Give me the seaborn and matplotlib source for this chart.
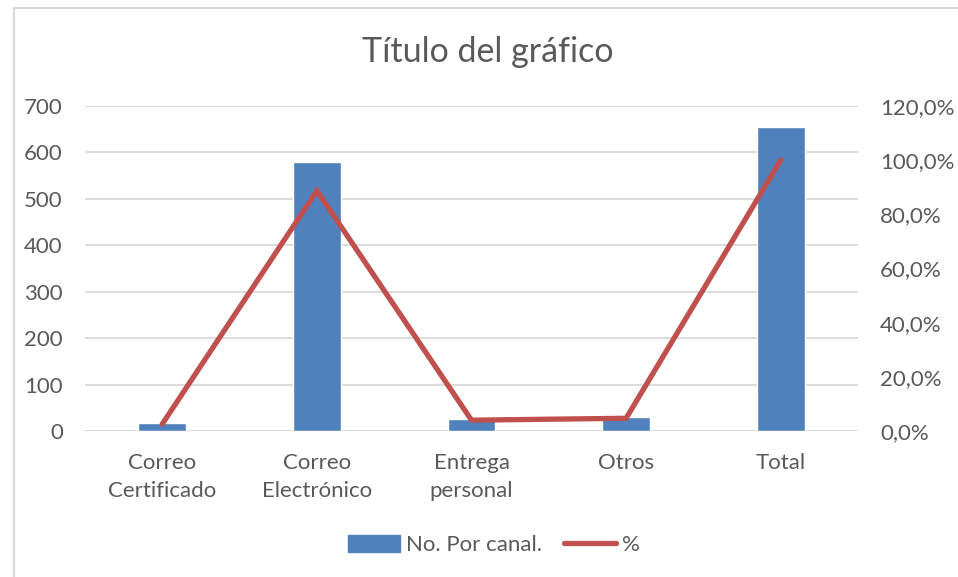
import matplotlib
matplotlib.use("Agg")
import matplotlib.pyplot as plt
import seaborn as sns
import pandas as pd
from matplotlib.patches import Rectangle
from matplotlib.lines import Line2D
from matplotlib.ticker import FuncFormatter, MultipleLocator

categories = ["Correo Certificado", "Correo Electrónico", "Entrega personal", "Otros", "Total"]
tick_labels = ["Correo\nCertificado", "Correo\nElectrónico", "Entrega\npersonal", "Otros", "Total"]
counts = [17, 580, 26, 31, 654]
percent = [2.6, 88.7, 4.0, 4.7, 100.0]
title = "Título del gráfico"
bar_label = "No. Por canal."
line_label = "%"

sns.set_style("white")
plt.rcParams["font.family"] = ["Lato", "DejaVu Sans"]

txt = "#595959"
grid = "#d9d9d9"
bar_c = "#4f81bd"
line_c = "#c0504d"

fig = plt.figure(figsize=(9.58, 5.77), dpi=100)
fig.patches.append(Rectangle((14 / 958, -0.1), 1.2, (1 - 8 / 577) + 0.1,
                             transform=fig.transFigure, fill=False,
                             edgecolor=grid, linewidth=1.5))
ax = fig.add_axes([85 / 958, 1 - 431 / 577, (858 - 85) / 958, (431 - 106) / 577])

df = pd.DataFrame({"cat": categories, "n": counts, "pct": percent})
sns.barplot(data=df, x="cat", y="n", ax=ax, color=bar_c, width=0.31,
            saturation=1, order=categories)
ax.set_xlim(-0.5, 4.5)
ax.set_ylim(0, 700)
ax.yaxis.set_major_locator(MultipleLocator(100))
ax.grid(axis="y", color=grid, linewidth=1.3)
ax.set_axisbelow(True)
for s in ax.spines.values():
    s.set_visible(False)
ax.set_xlabel("")
ax.set_ylabel("")
ax.set_xticks(range(len(categories)))
ax.set_xticklabels(tick_labels, fontsize=16, color=txt, linespacing=1.5)
ax.tick_params(axis="y", labelsize=16, labelcolor=txt, length=0, pad=16)
ax.tick_params(axis="x", length=0, pad=15.5)

ax2 = ax.twinx()
sns.lineplot(data=df, x="cat", y="pct", ax=ax2, color=line_c, linewidth=3.8,
             sort=False, solid_capstyle="round", solid_joinstyle="miter")
ax2.set_ylim(0, 120)
ax2.yaxis.set_major_locator(MultipleLocator(20))
ax2.yaxis.set_major_formatter(FuncFormatter(lambda v, p: f"{v:.1f}%".replace(".", ",")))
ax2.tick_params(axis="y", labelsize=16, labelcolor=txt, length=0, pad=16)
ax2.set_ylabel("")
ax2.set_xlabel("")
for s in ax2.spines.values():
    s.set_visible(False)
ax2.grid(False)
ax2.set_xlim(-0.5, 4.5)

fig.text(488 / 958, 1 - 52 / 577, title, ha="center", va="center",
         fontsize=24.5, color=txt)

handles = [Rectangle((0, 0), 1, 1, color=bar_c),
           Line2D([0], [0], color=line_c, linewidth=3.8, solid_capstyle="round")]
fig.legend(handles, [bar_label, line_label], loc="center",
           bbox_to_anchor=(494 / 958, 1 - 545 / 577), ncol=2, frameon=False,
           fontsize=16, labelcolor=txt, handlelength=2.35, handleheight=0.8,
           handletextpad=0.25, columnspacing=1.0)

fig.savefig("out.png", dpi=100)
